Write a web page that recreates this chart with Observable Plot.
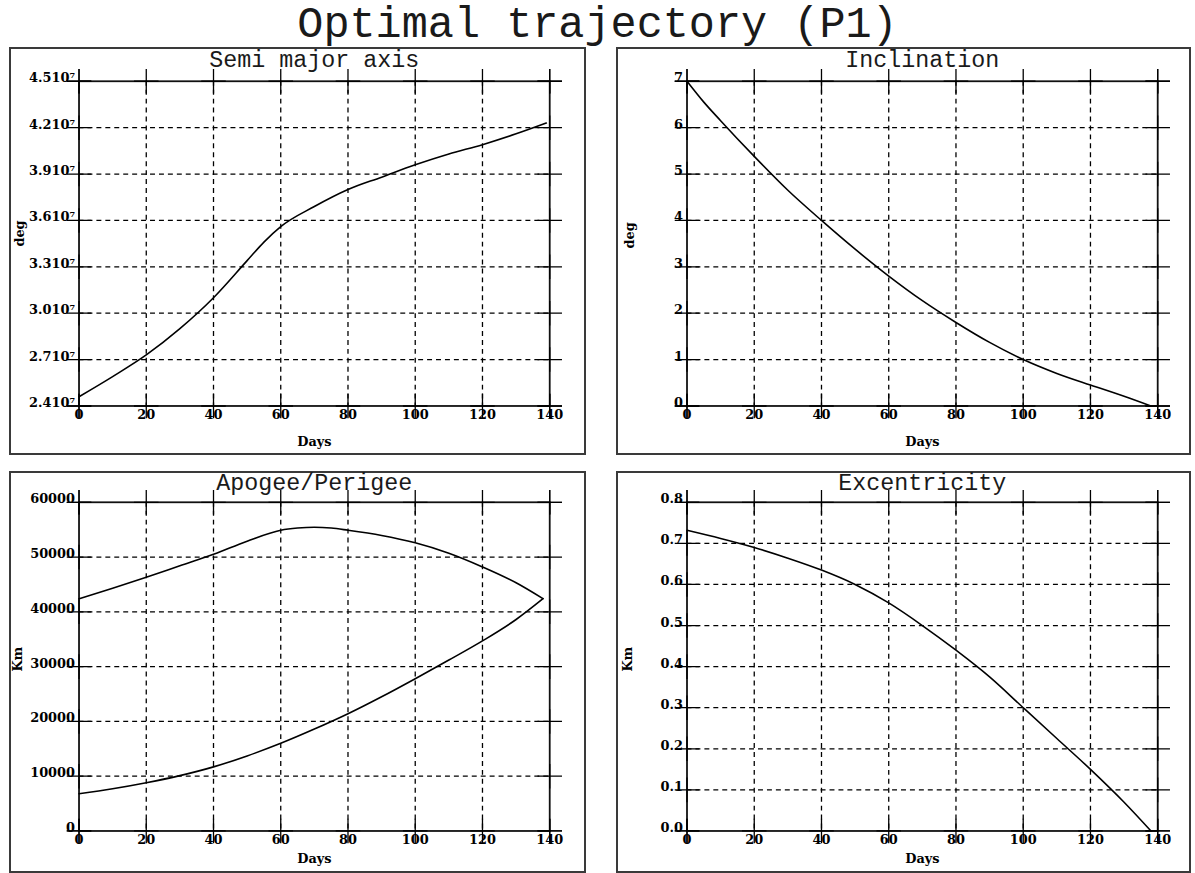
<!DOCTYPE html>
<html><head><meta charset="utf-8">
<script src="https://cdn.jsdelivr.net/npm/d3@7"></script>
<script src="https://cdn.jsdelivr.net/npm/@observablehq/plot@0.6"></script>
<style>
body{margin:0;background:#fff;width:1195px;height:873px;overflow:hidden;position:relative;}
#title{position:absolute;left:0;width:1195px;top:4px;text-align:center;font:43.5px/43px "Liberation Mono";color:#1a1a1a;white-space:pre;}
.panel{position:absolute;box-sizing:border-box;border:2px solid #3a3a3a;}
.panel svg{position:absolute;left:-2px;top:-2px;}
</style></head><body>
<div id="title">Optimal trajectory (P1)</div>
<script>
// ---- data ----
const xTicks = [0, 20, 40, 60, 80, 100, 120, 140];

const smaDays   = [0, 10, 20, 30, 40, 50, 55, 60, 70, 80, 90, 100, 110, 120, 130, 139];
const smaValues = [24600000, 25900000, 27300000, 29000000, 31000000, 33400000, 34600000, 35600000,
                   36900000, 38000000, 38800000, 39600000, 40300000, 40900000, 41600000, 42300000];
const smaTicks  = [24000000, 27000000, 30000000, 33000000, 36000000, 39000000, 42000000, 45000000];

const incDays   = [0, 5, 10, 20, 30, 40, 50, 60, 70, 80, 90, 100, 110, 120, 130, 138];
const incValues = [7.0, 6.55, 6.15, 5.38, 4.65, 4.0, 3.38, 2.8, 2.27, 1.8, 1.37, 1.0, 0.7, 0.45, 0.21, 0.0];
const incTicks  = [0, 1, 2, 3, 4, 5, 6, 7];

const apoDays   = [0, 10, 20, 30, 40, 50, 60, 65, 70, 75, 80, 90, 100, 110, 120, 130, 138];
const apoValues = [42400, 44300, 46300, 48400, 50500, 52900, 54900, 55300, 55450, 55300, 54900,
                   53950, 52600, 50700, 48200, 45300, 42400];
const periDays   = [0, 10, 20, 30, 40, 50, 60, 70, 80, 90, 100, 110, 120, 130, 138];
const periValues = [6800, 7700, 8800, 10100, 11700, 13700, 16000, 18600, 21400, 24500, 27800,
                    31200, 34700, 38600, 42400];
const kmTicks = [0, 10000, 20000, 30000, 40000, 50000, 60000];

const excDays   = [0, 10, 20, 30, 40, 50, 60, 70, 80, 90, 100, 110, 120, 130, 138];
const excValues = [0.732, 0.712, 0.69, 0.664, 0.635, 0.60, 0.555, 0.50, 0.44, 0.375, 0.30,
                   0.225, 0.15, 0.07, 0.0];
const excTicks = [0, 0.1, 0.2, 0.3, 0.4, 0.5, 0.6, 0.7, 0.8];

// ---- drawing ----
const TICKFONT = {fontFamily: "DejaVu Serif", fontWeight: "bold", fontSize: 13};

function panel(cfg) {
  const [left, top, w, h] = cfg.box;
  const div = document.createElement("div");
  div.className = "panel";
  Object.assign(div.style, {left: left + "px", top: top + "px", width: w + "px", height: h + "px"});
  const yTicks = cfg.yTicks;
  const yMin = yTicks[0], yMax = yTicks[yTicks.length - 1];
  const cross = {symbol: "plus", r: 8, stroke: "#000", fill: "none", strokeWidth: 1.3};
  const marks = [
    Plot.ruleX(xTicks.slice(1, -1), {x: d => d, stroke: "#000", strokeWidth: 1.3, strokeDasharray: "5,4"}),
    Plot.ruleY(yTicks.slice(1, -1), {y: d => d, stroke: "#000", strokeWidth: 1.3, strokeDasharray: "5,4"}),
    Plot.frame({stroke: "#111", strokeWidth: 1.8}),
    ...cfg.series.map(s => Plot.line(s.days.map((d, i) => ({d, v: s.values[i]})),
      {x: "d", y: "v", stroke: "#000", strokeWidth: 1.6, curve: "monotone-x"})),
    Plot.dot(xTicks, {x: d => d, frameAnchor: "bottom", ...cross}),
    Plot.dot(xTicks, {x: d => d, frameAnchor: "top", ...cross}),
    Plot.dot(yTicks, {y: d => d, frameAnchor: "left", ...cross}),
    Plot.dot(yTicks, {y: d => d, frameAnchor: "right", ...cross}),
    Plot.text(xTicks, {x: d => d, frameAnchor: "bottom", text: d => String(d), lineAnchor: "top", dy: 4, fill: "#000", ...TICKFONT}),
    Plot.text(yTicks, {y: d => d, frameAnchor: "left", text: cfg.yFmt, textAnchor: "end", lineAnchor: "bottom", dx: -4, dy: 1, fill: "#000", ...TICKFONT}),
    Plot.text([cfg.title], {frameAnchor: "top", text: d => d, lineAnchor: "bottom", dy: cfg.titleDy, fill: "#1a1a1a",
      fontFamily: "Liberation Mono", fontSize: 23.5}),
    Plot.text(["Days"], {frameAnchor: "bottom", text: d => d, lineAnchor: "middle", dy: cfg.daysDy, fill: "#000", ...TICKFONT}),
    Plot.text([cfg.ylabel], {frameAnchor: "left", text: d => d, rotate: -90, dx: cfg.labDx, dy: cfg.labDy, fill: "#000", ...TICKFONT})
  ];
  const svg = Plot.plot({
    width: w, height: h,
    marginLeft: cfg.m[0], marginTop: cfg.m[1], marginRight: cfg.m[2], marginBottom: cfg.m[3],
    x: {domain: [0, 140], axis: null},
    y: {domain: [yMin, yMax], axis: null},
    style: {background: "transparent", overflow: "visible"},
    marks
  });
  div.appendChild(svg);
  document.body.appendChild(div);
}

panel({box: [9, 47, 577, 408], m: [70, 34, 33, 47], title: "Semi major axis", ylabel: "deg",
  yTicks: smaTicks, yFmt: d => (d / 1e7).toFixed(1) + "10\u2077",
  series: [{days: smaDays, values: smaValues}], titleDy: -14, daysDy: 36, labDx: -60, labDy: 3});
panel({box: [616, 47, 575, 408], m: [71, 34, 30, 47], title: "Inclination", ylabel: "deg",
  yTicks: incTicks, yFmt: d => String(d),
  series: [{days: incDays, values: incValues}], titleDy: -14, daysDy: 36, labDx: -58, labDy: 5});
panel({box: [9, 471, 577, 402], m: [70, 31, 33, 40], title: "Apogee/Perigee", ylabel: "Km",
  yTicks: kmTicks, yFmt: d => String(d),
  series: [{days: apoDays, values: apoValues}, {days: periDays, values: periValues}], titleDy: -12, daysDy: 28, labDx: -62, labDy: 5});
panel({box: [616, 471, 575, 402], m: [71, 31, 30, 40], title: "Excentricity", ylabel: "Km",
  yTicks: excTicks, yFmt: d => d.toFixed(1),
  series: [{days: excDays, values: excValues}], titleDy: -12, daysDy: 28, labDx: -60, labDy: 5});
</script>
</body></html>
